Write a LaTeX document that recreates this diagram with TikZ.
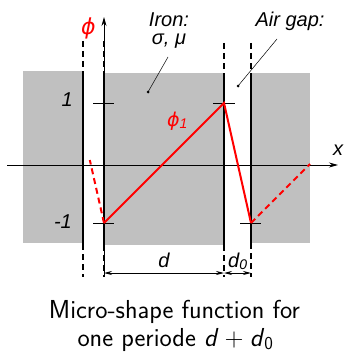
\documentclass[tikz,border=0pt]{standalone}
\usepackage{fontspec}
\newfontfamily\arialfont{Liberation Sans}
\newfontfamily\phifont{DejaVu Sans}
\usetikzlibrary{arrows.meta}
\definecolor{irongray}{RGB}{192,192,192}
\definecolor{phired}{RGB}{255,0,0}
\begin{document}
\begin{tikzpicture}[x=1pt,y=-1pt,
  iface/.style={line width=2pt},
  ifacedash/.style={line width=2pt, dash pattern=on 6pt off 4pt},
  axisline/.style={line width=0.8pt, -{Stealth[length=9pt,width=5pt]}},
  philine/.style={phired, line width=2pt},
  phidash/.style={phired, line width=2pt, dash pattern=on 6pt off 4pt},
  tickline/.style={line width=0.6pt},
  leader/.style={line width=0.5pt},
  dimline/.style={line width=0.8pt, {Stealth[length=8pt,width=4pt]}-{Stealth[length=8pt,width=4pt]}},
  lbl/.style={font=\arialfont\itshape\fontsize{20}{22}\selectfont, inner sep=0pt},
  caption/.style={font=\sffamily\fontsize{26}{30}\selectfont, inner sep=0pt, anchor=base}
]
\useasboundingbox (0,0) rectangle (344,353);
% iron blocks
\fill[irongray] (23,71) rectangle (83,243);
\fill[irongray] (104,73) rectangle (224,245);
\fill[irongray] (251,73) rectangle (310,243);

% coordinates
\coordinate (xs) at (7,165);
\coordinate (xe) at (338,165);
\coordinate (ys) at (104,277);
\coordinate (ye) at (104,17);

\coordinate (a1) at (83,41);  \coordinate (a2) at (83,71);
\coordinate (a3) at (83,244); \coordinate (a4) at (83,277);
\coordinate (b1) at (104,41);  \coordinate (b2) at (104,73);
\coordinate (b3) at (104,245); \coordinate (b4) at (104,277);
\coordinate (c1) at (224,43);  \coordinate (c2) at (224,73);
\coordinate (c3) at (224,245); \coordinate (c4) at (224,277);
\coordinate (e1) at (251,43);  \coordinate (e2) at (251,73);
\coordinate (e3) at (251,243); \coordinate (e4) at (251,277);

% axes
\draw[axisline] (xs) -- (xe);
\draw[axisline] (ys) -- (ye);

% interfaces
\foreach \p in {a,b,c,e}{
  \draw[ifacedash] (\p1) -- (\p2);
  \draw[iface] (\p2) -- (\p3);
  \draw[ifacedash] (\p3) -- (\p4);
}

% ticks
\coordinate (t1l) at (93,103);  \coordinate (t1r) at (114,103);
\coordinate (t2l) at (213,103); \coordinate (t2r) at (235,103);
\coordinate (t3l) at (93,223);  \coordinate (t3r) at (114,223);
\coordinate (t4l) at (240,223); \coordinate (t4r) at (261,223);
\draw[tickline] (t1l) -- (t1r);
\draw[tickline] (t2l) -- (t2r);
\draw[tickline] (t3l) -- (t3r);
\draw[tickline] (t4l) -- (t4r);

% shape function
\coordinate (p0) at (89.8,160);
\coordinate (p1) at (104,223);
\coordinate (p2) at (224,103);
\coordinate (p3) at (251,223);
\coordinate (p4) at (310,164);
\draw[phidash] (p1) -- (p0);
\draw[philine] (p1) -- (p2) -- (p3);
\draw[phidash] (p3) -- (p4);

% dimensions
\coordinate (d1) at (104,273);
\coordinate (d2) at (224,273);
\coordinate (d3) at (251,273);
\draw[dimline] (d1) -- (d2);
\draw[dimline] (d2) -- (d3);

% labels
\node[lbl, anchor=base] (ironlbl) at (169,27) {Iron:};
\node[lbl, anchor=base] (ironprop) at (169,45) {σ, μ};
\node[lbl, anchor=base] (airlbl) at (290,27) {Air gap:};
\node[lbl, anchor=base east] (one) at (73,106) {1};
\node[lbl, anchor=base east] (mone) at (72,228) {-1};
\node[lbl, anchor=base] (xlbl) at (338,155) {x};
\node[lbl, anchor=base, text=phired, font=\phifont\itshape\fontsize{22}{24}\selectfont] (philbl) at (88.5,35) {ϕ};
\node[lbl, anchor=base west, text=phired] (phione) at (167,126) {{\phifont\itshape\fontsize{19}{21}\selectfont ϕ}\raisebox{-2pt}{\fontsize{14}{16}\selectfont 1}};
\node[lbl, anchor=base] (dlbl) at (164,267) {d};
\node[lbl, anchor=base west] (d0lbl) at (228,267) {d\raisebox{-2pt}{\fontsize{14}{16}\selectfont 0}};

% leaders
\coordinate (ld1) at (168,57);
\fill (148,92) circle (1.5pt) coordinate (ldot1);
\draw[leader] (ld1) -- (ldot1);
\coordinate (ld2) at (277,39);
\fill (238,86) circle (1.5pt) coordinate (ldot2);
\draw[leader] (ld2) -- (ldot2);

% caption
\node[caption] (cap1) at (174.5,318) {Micro-shape function for};
\node[caption] (cap2) at (175.5,346) {one periode \textit{d}\hspace{0.24em}+\hspace{0.24em}\textit{d}\textsubscript{0}};
\end{tikzpicture}
\end{document}
